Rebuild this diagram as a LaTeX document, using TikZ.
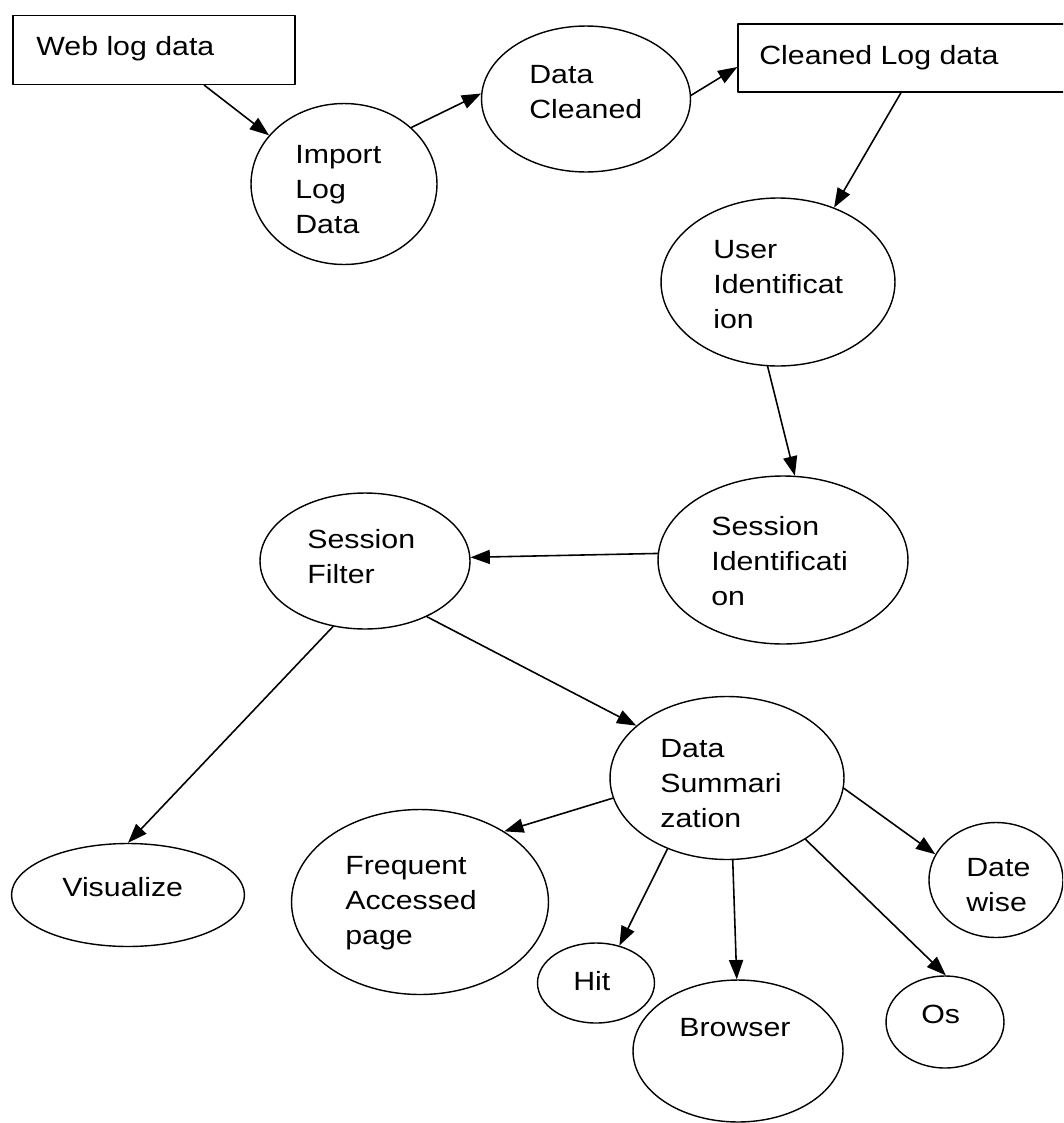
\documentclass[tikz,border=0pt]{standalone}
\usepackage{fontspec}
\setmainfont{Liberation Sans}[FakeStretch=1.15]
\usetikzlibrary{arrows.meta,shapes.geometric}

\begin{document}
\begin{tikzpicture}[line cap=round,line join=round,x=0.02cm,y=-0.02cm,
  >={Triangle[length=11pt,width=8pt]},
  bubble/.style={draw,ellipse,line width=0.8pt,inner sep=0pt},
  box/.style={draw,rectangle,line width=0.8pt,inner sep=0pt},
  lbl/.style={anchor=north west,inner sep=0pt,align=left,font=\fontsize{15}{19.84}\selectfont},
  flow/.style={->,line width=0.9pt}]
\useasboundingbox (0,0) rectangle (1063,1123);
\clip (0,0) rectangle (1063,1123);

% boxes
\node[box,minimum width=5.64cm,minimum height=1.38cm] (web) at (154,50) {};
\node[box,minimum width=6.84cm,minimum height=1.36cm] (clog) at (909,58) {};

% ellipses
\node[bubble,minimum width=3.72cm,minimum height=3.22cm] (imp) at (344,184) {};
\node[bubble,minimum width=4.18cm,minimum height=2.92cm] (cln) at (586,99) {};
\node[bubble,minimum width=4.68cm,minimum height=3.36cm] (usr) at (778,282) {};
\node[bubble,minimum width=5.0cm,minimum height=3.36cm] (ses) at (783,560) {};
\node[bubble,minimum width=4.2cm,minimum height=2.72cm] (flt) at (365,561) {};
\node[bubble,minimum width=4.68cm,minimum height=3.26cm] (sum) at (727,778) {};
\node[bubble,minimum width=4.66cm,minimum height=2.06cm] (vis) at (128,895) {};
\node[bubble,minimum width=5.14cm,minimum height=3.7cm] (frq) at (420,902) {};
\node[bubble,minimum width=2.34cm,minimum height=1.6cm] (hit) at (596,983) {};
\node[bubble,minimum width=4.2cm,minimum height=2.84cm] (brw) at (738,1051) {};
\node[bubble,minimum width=2.36cm,minimum height=1.84cm] (os) at (945,1022) {};
\node[bubble,minimum width=2.68cm,minimum height=2.3cm] (dat) at (996,880) {};

% texts
\node[lbl] (webT) at (36,36) {Web log data};
\node[lbl] (clogT) at (759,45) {Cleaned Log data};
\node[lbl] (impT) at (295,145) {Import\\Log\\Data};
\node[lbl] (clnT) at (529,65) {Data\\Cleaned};
\node[lbl] (usrT) at (713,240) {User\\Identificat\\ion};
\node[lbl] (sesT) at (711,516) {Session\\Identificati\\on};
\node[lbl] (fltT) at (307,529) {Session\\Filter};
\node[lbl] (sumT) at (660,739) {Data\\Summari\\zation};
\node[lbl] (visT) at (62,877) {Visualize};
\node[lbl] (frqT) at (345,856) {Frequent\\Accessed\\page};
\node[lbl] (hitT) at (573,971) {Hit};
\node[lbl] (brwT) at (679,1018) {Browser};
\node[lbl] (osT) at (921,1005) {Os};
\node[lbl] (datT) at (966,858) {Date\\wise};

% arrows
\draw[flow] (web.-35) -- (imp.147);
\draw[flow] (imp.40) -- (cln.177);
\draw[flow] (cln.2) -- (clog.183);
\draw[flow] (clog.-103) -- (usr.53);
\draw[flow] (usr.-97) -- (ses.82);
\draw[flow] (ses.177) -- (flt.2);
\draw[flow] (flt.-42) -- (sum.150);
\draw[flow] (flt.-116) -- (vis.90);
\draw[flow] (sum.190) -- (frq.40);
\draw[flow] (sum.-130) -- (hit.58);
\draw[flow] (sum.-86) -- (brw.91);
\draw[flow] (sum.-38) -- (os.89);
\draw[flow] (sum.-5) -- (dat.157);
\end{tikzpicture}
\end{document}
